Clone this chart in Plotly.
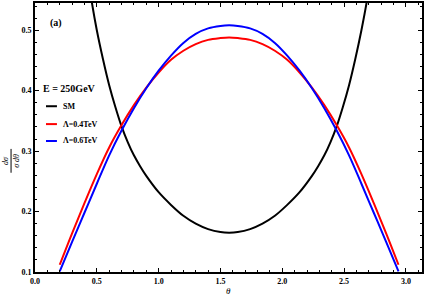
import plotly.graph_objects as go

# ---- data ----
theta_lam = [0.20, 0.30, 0.40, 0.50, 0.60, 0.70, 0.80, 0.90, 1.00, 1.10, 1.20, 1.30, 1.40, 1.50,
             1.57, 1.64, 1.74, 1.84, 1.94, 2.04, 2.14, 2.24, 2.34, 2.44, 2.54, 2.64, 2.74, 2.84, 2.94]
red_04 = [0.112, 0.164, 0.214, 0.262, 0.306, 0.343, 0.376, 0.405, 0.430, 0.451, 0.466, 0.477, 0.484, 0.487,
          0.488, 0.487, 0.484, 0.477, 0.466, 0.451, 0.430, 0.405, 0.376, 0.343, 0.306, 0.262, 0.214, 0.164, 0.112]
blue_06 = [0.101, 0.150, 0.198, 0.246, 0.293, 0.334, 0.371, 0.404, 0.433, 0.458, 0.479, 0.494, 0.503, 0.507,
           0.508, 0.507, 0.503, 0.494, 0.479, 0.458, 0.433, 0.404, 0.371, 0.334, 0.293, 0.246, 0.198, 0.150, 0.101]

theta_sm = [0.42, 0.455, 0.50, 0.55, 0.60, 0.65, 0.70, 0.75, 0.80, 0.85, 0.90, 1.00, 1.10, 1.20, 1.30, 1.40, 1.50,
            1.57, 1.64, 1.74, 1.84, 1.94, 2.04, 2.14, 2.24, 2.29, 2.34, 2.39, 2.44, 2.49, 2.54, 2.59, 2.64, 2.687, 2.72]
sm = [0.600, 0.552, 0.500, 0.452, 0.409, 0.373, 0.341, 0.315, 0.293, 0.275, 0.259, 0.232, 0.211, 0.193, 0.180, 0.171, 0.166,
      0.165, 0.166, 0.171, 0.180, 0.193, 0.211, 0.232, 0.259, 0.275, 0.293, 0.315, 0.341, 0.373, 0.409, 0.452, 0.500, 0.552, 0.600]

x_ticks = [0.0, 0.5, 1.0, 1.5, 2.0, 2.5, 3.0]
x_ticklabels = ["0.0", "0.5", "1.0", "1.5", "2.0", "2.5", "3.0"]
y_ticks = [0.1, 0.2, 0.3, 0.4, 0.5]
y_ticklabels = ["0.1", "0.2", "0.3", "0.4", "0.5"]

series_names = ["SM", "Λ=0.4TeV", "Λ=0.6TeV"]
series_colors = ["#000000", "#ff0000", "#0000ff"]

SERIF = "Liberation Serif"

fig = go.Figure()
fig.add_trace(go.Scatter(x=theta_sm, y=sm, mode="lines", name=series_names[0],
                         line=dict(color=series_colors[0], width=2, shape="spline"), showlegend=False))
fig.add_trace(go.Scatter(x=theta_lam, y=red_04, mode="lines", name=series_names[1],
                         line=dict(color=series_colors[1], width=2, shape="spline"), showlegend=False))
fig.add_trace(go.Scatter(x=theta_lam, y=blue_06, mode="lines", name=series_names[2],
                         line=dict(color=series_colors[2], width=2, shape="spline"), showlegend=False))

W, H = 425, 300
ML, MR, MT, MB = 35, 2, 1, 28
PW, PH = W - ML - MR, H - MT - MB


def px(x):
    return (x - ML) / PW


def py(y):
    return (H - MB - y) / PH


axis_common = dict(showline=True, linecolor="black", linewidth=2, mirror="allticks",
                   ticks="inside", ticklen=4, tickwidth=1, tickcolor="black",
                   showgrid=False, zeroline=False,
                   tickfont=dict(family=SERIF, size=8, color="black", weight="bold"))

fig.update_xaxes(range=[0, 3.13], tickvals=x_ticks, ticktext=x_ticklabels,
                 minor=dict(dtick=0.1, tick0=0, ticks="inside", ticklen=2, tickcolor="black", showgrid=False),
                 **axis_common)
fig.update_yaxes(range=[0.1, 0.545], tickvals=y_ticks, ticktext=y_ticklabels,
                 minor=dict(dtick=0.02, tick0=0.1, ticks="inside", ticklen=2, tickcolor="black", showgrid=False),
                 **axis_common)

annotations = []
shapes = []
# panel label and energy
annotations.append(dict(x=px(48), y=py(21), xref="paper", yref="paper", text="<b>(a)</b>", showarrow=False,
                        xanchor="left", yanchor="middle", font=dict(family=SERIF, size=10, color="black")))
annotations.append(dict(x=px(41), y=py(87), xref="paper", yref="paper", text="<b>E = 250GeV</b>", showarrow=False,
                        xanchor="left", yanchor="middle", font=dict(family=SERIF, size=10, color="black")))
# manual legend
legend_rows = [105, 123, 140]
for name, color, row in zip(series_names, series_colors, legend_rows):
    shapes.append(dict(type="line", xref="paper", yref="paper", x0=px(46), x1=px(57), y0=py(row), y1=py(row),
                       line=dict(color=color, width=2)))
    annotations.append(dict(x=px(61), y=py(row), xref="paper", yref="paper", text="<b>" + name + "</b>",
                            showarrow=False, xanchor="left", yanchor="middle",
                            font=dict(family=SERIF, size=8, color="black")))
# axis titles
annotations.append(dict(x=px(229), y=py(291), xref="paper", yref="paper", text="<i>θ</i>", showarrow=False,
                        xanchor="center", yanchor="middle", font=dict(family=SERIF, size=9, color="black")))
annotations.append(dict(x=px(6), y=py(160), xref="paper", yref="paper", text="<i>dσ</i>", showarrow=False,
                        textangle=-90, xanchor="center", yanchor="middle",
                        font=dict(family=SERIF, size=8, color="black")))
annotations.append(dict(x=px(17), y=py(160), xref="paper", yref="paper", text="<i>σ dθ</i>", showarrow=False,
                        textangle=-90, xanchor="center", yanchor="middle",
                        font=dict(family=SERIF, size=8, color="black")))
shapes.append(dict(type="line", xref="paper", yref="paper", x0=px(11), x1=px(11), y0=py(148), y1=py(172),
                   line=dict(color="black", width=1)))

fig.update_layout(width=W, height=H, margin=dict(l=ML, r=MR, t=MT, b=MB),
                  paper_bgcolor="white", plot_bgcolor="white",
                  annotations=annotations, shapes=shapes, showlegend=False)

fig.write_html("out.html", config={"displayModeBar": False},
               post_script="document.body.style.margin='0px';document.body.style.padding='0px';")
